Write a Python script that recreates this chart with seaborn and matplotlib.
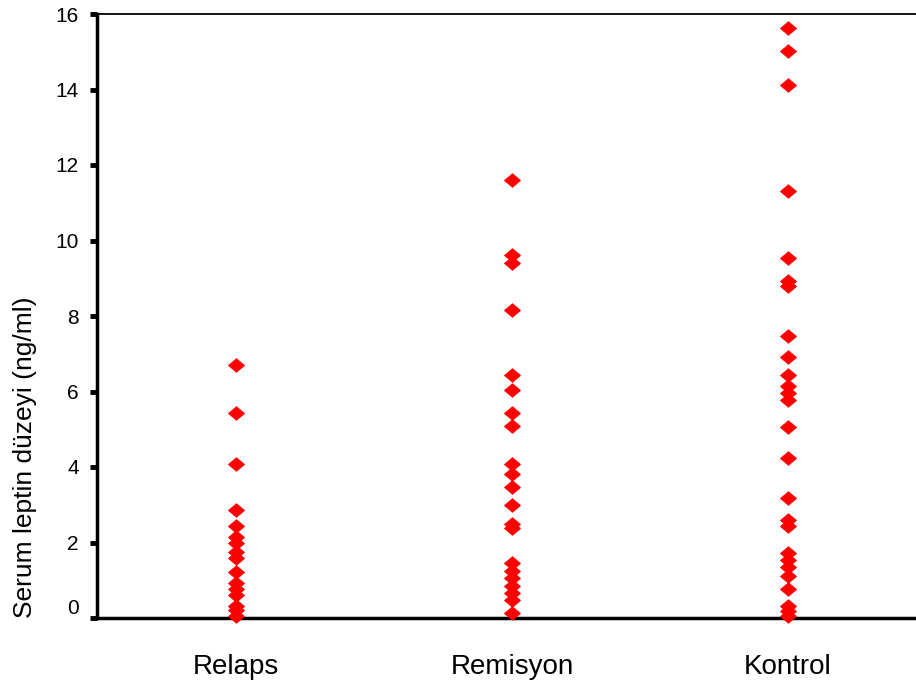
import numpy as np
import pandas as pd
import matplotlib
matplotlib.use("Agg")
import matplotlib.pyplot as plt
import matplotlib.transforms as mtransforms
from matplotlib.path import Path
import seaborn as sns

groups = ["Relaps", "Remisyon", "Kontrol"]

relaps = [6.70, 5.43, 4.07, 2.87, 2.45, 2.15, 2.0, 1.75, 1.58, 1.22, 0.92, 0.76, 0.62,
          0.32, 0.2, 0.05]
remisyon = [11.6, 9.62, 9.4, 8.17, 6.43, 6.03, 5.44, 5.08, 4.08, 3.82, 3.47, 2.99,
            2.5, 2.38, 1.45, 1.25, 1.05, 0.85, 0.67, 0.47, 0.13]
kontrol = [15.62, 15.02, 14.13, 11.3, 9.53, 8.92, 8.8, 7.47, 6.92, 6.43, 6.15, 5.95,
           5.77, 5.07, 4.23, 3.18, 2.6, 2.45, 1.72, 1.53, 1.35, 1.12, 0.77, 0.33,
           0.18, 0.05]

y_ticks = [0, 2, 4, 6, 8, 10, 12, 14, 16]

df = pd.DataFrame({
    "grup": np.repeat(groups, [len(relaps), len(remisyon), len(kontrol)]),
    "leptin": relaps + remisyon + kontrol,
})

sns.set_style("white")
plt.rcParams["font.family"] = ["Liberation Sans", "DejaVu Sans"]
plt.rcParams["text.color"] = "black"
plt.rcParams["xtick.color"] = "black"
plt.rcParams["ytick.color"] = "black"
plt.rcParams["axes.labelcolor"] = "black"

# flat diamond marker
diamond = Path([(-1.0, 0.0), (0.0, 0.85), (1.0, 0.0), (0.0, -0.85), (-1.0, 0.0)],
               [Path.MOVETO, Path.LINETO, Path.LINETO, Path.LINETO, Path.CLOSEPOLY])

fig = plt.figure(figsize=(9.16, 6.84), dpi=100)
ax = fig.add_axes([97 / 916, 1 - 618 / 684, 1 - 97 / 916, (618 - 14) / 684])

sns.stripplot(data=df, x="grup", y="leptin", order=groups, jitter=False,
              color="#ff0000", marker=diamond, size=11.5, linewidth=0.6,
              edgecolor="#ff0000", ax=ax, clip_on=False, zorder=3)

ax.set_xlim(-0.5036, 2.4638)
ax.set_ylim(0, 16)
ax.set_yticks(y_ticks)
ax.set_yticklabels([str(t) for t in y_ticks], fontsize=15)
ax.set_xlabel("")
ax.set_ylabel("Serum leptin düzeyi (ng/ml)", fontsize=19, va="center")
ax.yaxis.set_label_coords(-0.088, 0.266)

ax.tick_params(axis="y", direction="out", length=5, width=3.5, color="black",
               pad=8, left=True)
ax.tick_params(axis="x", length=0, pad=26, labelsize=20)

for side in ["left", "bottom"]:
    ax.spines[side].set_linewidth(2.5)
    ax.spines[side].set_color("black")
ax.spines["top"].set_linewidth(1.3)
ax.spines["top"].set_color("black")
ax.spines["right"].set_visible(False)

# lift the zero label slightly off the baseline
lbl0 = ax.get_yticklabels()[0]
lbl0.set_transform(lbl0.get_transform() +
                   mtransforms.ScaledTranslation(0, 8 / 72, fig.dpi_scale_trans))

fig.savefig("out.png", dpi=100)
